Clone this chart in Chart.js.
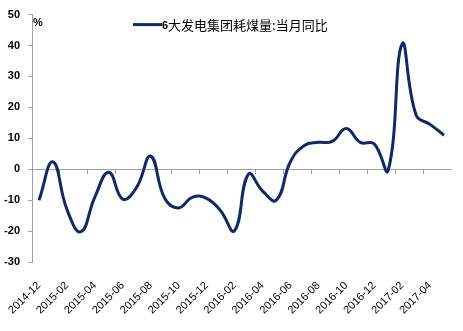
<!DOCTYPE html>
<html>
<head>
<meta charset="utf-8">
<script src="https://cdn.jsdelivr.net/npm/chart.js@4.4.1/dist/chart.umd.min.js"></script>
<style>
  html, body { margin: 0; padding: 0; background: #fff; }
  #wrap { width: 463px; height: 331px; }
</style>
</head>
<body>
<div id="wrap"><canvas id="coalChart" width="463" height="331"></canvas></div>
<script>
// monthly categories, 2014-12 .. 2017-05
var months = [
    '2014-12', '2015-01', '2015-02', '2015-03', '2015-04', '2015-05',
    '2015-06', '2015-07', '2015-08', '2015-09', '2015-10', '2015-11',
    '2015-12', '2016-01', '2016-02', '2016-03', '2016-04', '2016-05',
    '2016-06', '2016-07', '2016-08', '2016-09', '2016-10', '2016-11',
    '2016-12', '2017-01', '2017-02', '2017-03', '2017-04', '2017-05'
];

// 6大发电集团耗煤量 当月同比 (%)
var coalYoY = [
    -10, 2.4, -13, -20.2, -9, -1,
    -9.7, -5.8, 4.2, -9.4, -12.5, -9,
    -9.4, -13.4, -19.9, -1.6, -7, -10,
    2.4, 7.7, 8.7, 9, 13.2, 8.7,
    8.2, -0.4, 40.5, 17.5, 14.5, 11
];

var seriesName = '6大发电集团耗煤量:当月同比';
var yTicks = [-30, -20, -10, 0, 10, 20, 30, 40, 50];

var lineColor = '#0b2a6e';
var axisColor = '#a0a0a0';

// legend and unit label drawn by hand so they sit inside the plot area
var overlayPlugin = {
    id: 'overlay',
    afterDraw: function (chart) {
        var ctx = chart.ctx;
        var area = chart.chartArea;
        ctx.save();
        // unit
        ctx.fillStyle = '#000';
        ctx.font = 'bold 11px "Liberation Sans", Arial, sans-serif';
        ctx.textAlign = 'left';
        ctx.textBaseline = 'middle';
        ctx.fillText('%', area.left + 1, area.top + 8);

        // legend
        var ly = area.top + 10;
        var lx = 133;
        ctx.strokeStyle = lineColor;
        ctx.lineWidth = 3;
        ctx.beginPath();
        ctx.moveTo(lx, ly);
        ctx.lineTo(lx + 29, ly);
        ctx.stroke();
        ctx.font = 'bold 11px "Liberation Sans", Arial, sans-serif';
        ctx.fillText('6', lx + 29, ly + 1);
        var w6 = ctx.measureText('6').width;
        ctx.font = '13px "Noto Sans CJK SC", sans-serif';
        ctx.fillText(seriesName.slice(1), lx + 29 + w6, ly);
        ctx.restore();
    }
};

var ctx = document.getElementById('coalChart').getContext('2d');
new Chart(ctx, {
    type: 'line',
    data: {
        labels: months,
        datasets: [{
            label: seriesName,
            data: coalYoY,
            borderColor: lineColor,
            borderWidth: 3,
            pointRadius: 0,
            tension: 0.45,
            fill: false
        }]
    },
    options: {
        responsive: false,
        animation: false,
        layout: {
            padding: { top: 10, right: 12, left: 0, bottom: 0 }
        },
        plugins: {
            legend: { display: false },
            tooltip: { enabled: false }
        },
        scales: {
            x: {
                type: 'category',
                position: 'bottom',
                offset: true,
                border: { display: false },
                grid: { display: false },
                ticks: {
                    autoSkip: false,
                    maxRotation: 45,
                    minRotation: 45,
                    padding: 9,
                    color: '#000',
                    font: { family: '"Liberation Sans", Arial, sans-serif', size: 11 },
                    callback: function (value, index) {
                        return index % 2 === 0 ? months[index] : null;
                    }
                },
                afterFit: function (scale) {
                    scale.height = 69;
                    // rotated labels may hang past the left edge; keep the plot where it is
                    scale.paddingLeft = 0;
                    scale.paddingRight = 0;
                }
            },
            // zero line with tick marks every two months
            xZero: {
                type: 'category',
                position: { y: 0 },
                offset: true,
                border: { display: true, color: axisColor, width: 1 },
                grid: {
                    offset: true,
                    drawOnChartArea: false,
                    drawTicks: true,
                    tickLength: 4,
                    color: function (c) { return c.index % 2 === 0 ? axisColor : 'rgba(0,0,0,0)'; }
                },
                ticks: { display: false }
            },
            y: {
                min: -30,
                max: 50,
                afterBuildTicks: function (scale) {
                    scale.ticks = yTicks.map(function (v) { return { value: v }; });
                },
                border: { display: true, color: axisColor, width: 1 },
                grid: {
                    drawOnChartArea: false,
                    drawTicks: true,
                    tickLength: 4,
                    color: axisColor
                },
                ticks: {
                    padding: 8,
                    color: '#000',
                    font: { family: '"Liberation Sans", Arial, sans-serif', size: 11, weight: 'bold' }
                },
                afterFit: function (scale) { scale.width = 32; }
            }
        }
    },
    plugins: [overlayPlugin]
});
</script>
</body>
</html>
